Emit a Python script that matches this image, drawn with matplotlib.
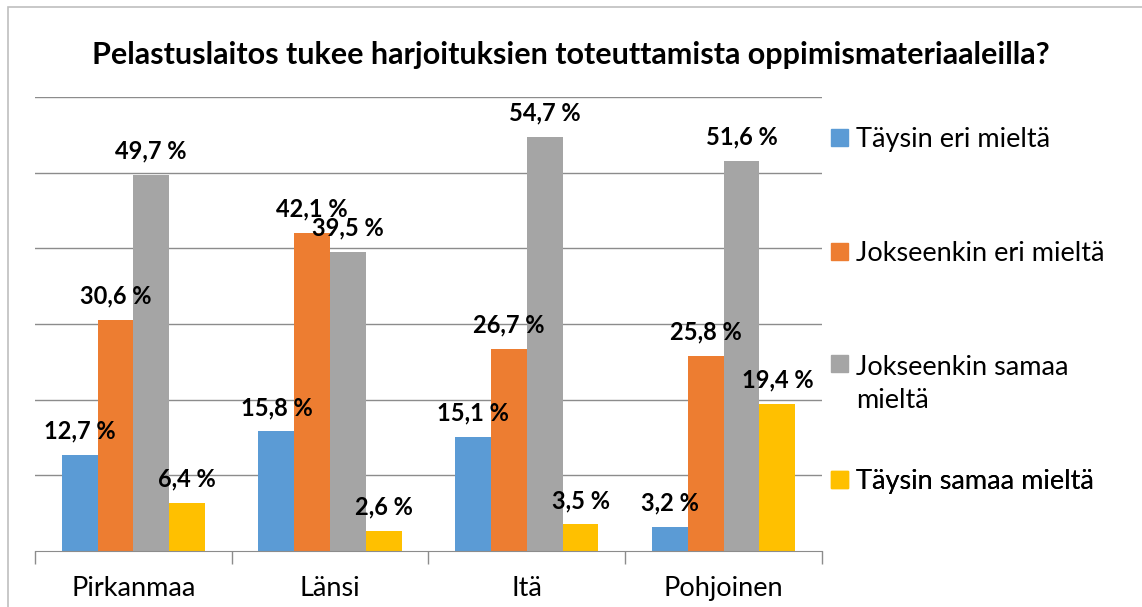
import numpy as np
import matplotlib.pyplot as plt
from matplotlib.patches import Rectangle, Patch

plt.rcParams['font.family'] = ['Lato', 'DejaVu Sans']

# data
regions = ['Pirkanmaa', 'Länsi', 'Itä', 'Pohjoinen']
series = ['Täysin eri mieltä', 'Jokseenkin eri mieltä',
          'Jokseenkin samaa\nmieltä', 'Täysin samaa mieltä']
taysin_eri = [12.7, 15.8, 15.1, 3.2]
jokseenkin_eri = [30.6, 42.1, 26.7, 25.8]
jokseenkin_samaa = [49.7, 39.5, 54.7, 51.6]
taysin_samaa = [6.4, 2.6, 3.5, 19.4]
values = [taysin_eri, jokseenkin_eri, jokseenkin_samaa, taysin_samaa]
colors = ['#5B9BD5', '#ED7D31', '#A5A5A5', '#FFC000']

fig = plt.figure(figsize=(11.42, 6.07), dpi=100)
ax = fig.add_axes([0.0306, 0.0923, 0.6892, 0.7477])

# outer chart border (left and top visible)
fig.patches.append(Rectangle((0.007, -0.1), 1.1, 1.089, transform=fig.transFigure,
                             fill=False, edgecolor='#BFBFBF', linewidth=1.2))

x = np.arange(len(regions))
w = 0.182
for i, (vals, col, name) in enumerate(zip(values, colors, series)):
    pos = x + (i - 1.5) * w
    ax.bar(pos, vals, width=w, color=col, label=name, zorder=3)
    for px, v in zip(pos, vals):
        ax.annotate(f'{v:.1f} %'.replace('.', ','), (px, v), xytext=(0, 9),
                    textcoords='offset points', ha='center', va='bottom',
                    fontsize=17, fontweight='bold', color='black', zorder=4)

ax.set_xlim(-0.5, 3.5)
ax.set_ylim(0, 60)
ax.set_yticks(np.arange(10, 61, 10))
ax.yaxis.grid(True, color='#8C8C8C', linewidth=1, zorder=0)
ax.tick_params(axis='y', length=0, labelleft=False)
ax.set_xticks(x)
ax.set_xticklabels(regions, fontsize=19.5)
ax.set_xticks(np.arange(-0.5, 3.6, 1), minor=True)
ax.tick_params(axis='x', which='major', length=0, pad=18)
ax.tick_params(axis='x', which='minor', length=9, color='#8C8C8C', width=1)
for s in ['top', 'right', 'left']:
    ax.spines[s].set_visible(False)
ax.spines['bottom'].set_color('#8C8C8C')
ax.spines['bottom'].set_zorder(5)

fig.text(0.5, 0.909, 'Pelastuslaitos tukee harjoituksien toteuttamista oppimismateriaaleilla?',
         ha='center', va='center', fontsize=22, fontweight='bold')

# legend: one entry per box, evenly spaced like the original
tops = [0.934, 0.683, 0.432, 0.181]
for name, col, top in zip(series, colors, tops):
    lg = ax.legend(handles=[Patch(color=col, label=name)], loc='upper left',
                   bbox_to_anchor=(1.012, top), frameon=False, fontsize=19.5,
                   handlelength=0.6, handleheight=0.6, handletextpad=0.3,
                   borderpad=0, borderaxespad=0)
    lg.get_texts()[0].set_linespacing(1.4)
    if '\n' in name:
        # marker next to the first line of a wrapped label
        for col_box in lg._legend_handle_box.get_children():
            for item in col_box.get_children():
                item.align = 'top'
    ax.add_artist(lg)

fig.savefig('out.png', dpi=100)
